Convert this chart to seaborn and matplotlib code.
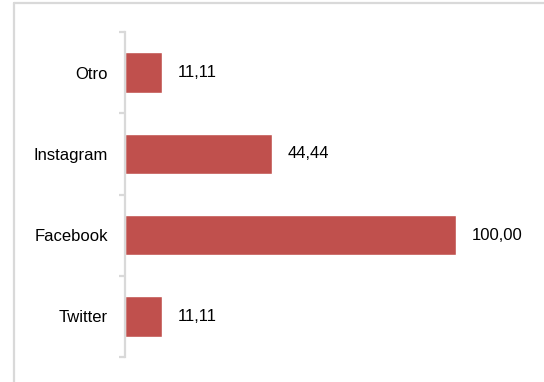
import matplotlib
matplotlib.use("Agg")
import matplotlib.pyplot as plt
import seaborn as sns
import pandas as pd
from matplotlib.lines import Line2D

categories = ["Otro", "Instagram", "Facebook", "Twitter"]
values = [11.11, 44.44, 100.00, 11.11]
labels = ["11,11", "44,44", "100,00", "11,11"]

sns.set_style("white")
plt.rcParams["font.family"] = ["Liberation Sans", "DejaVu Sans"]

df = pd.DataFrame({"categoria": categories, "valor": values})

fig = plt.figure(figsize=(5.44, 3.82), dpi=100)
ax = fig.add_axes([125/544, 1 - 357/382, (522 - 125)/544, (357 - 32)/382])

sns.barplot(data=df, y="categoria", x="valor", order=categories, color="#C0504D",
            saturation=1, width=0.5, ax=ax, orient="h")

ax.set_xlim(0, 120)
ax.set_ylim(3.5, -0.5)
ax.set_xlabel("")
ax.set_ylabel("")
ax.set_xticks([])

for s in ["top", "right", "bottom"]:
    ax.spines[s].set_visible(False)
ax.spines["left"].set_color("#D9D9D9")
ax.spines["left"].set_linewidth(1.6)

ax.set_yticks([-0.5, 0.5, 1.5, 2.5, 3.5], minor=False)
ax.set_yticklabels([])
ax.tick_params(axis="y", which="major", length=4, width=1.6, color="#D9D9D9", left=True)
ax.set_yticks(range(len(categories)), minor=True)
ax.set_yticklabels(categories, minor=True)
ax.tick_params(axis="y", which="minor", length=0, pad=12.5, labelsize=12, labelcolor="#000000")

for i, (v, lab) in enumerate(zip(values, labels)):
    ax.annotate(lab, xy=(v, i), xytext=(11.5, 0), textcoords="offset points",
                va="center", ha="left", fontsize=12, color="#000000")

fig.add_artist(Line2D([14/544, 14/544], [0, 1 - 3/382], transform=fig.transFigure,
                      color="#D9D9D9", linewidth=1.6))
fig.add_artist(Line2D([14/544, 1], [1 - 3/382, 1 - 3/382], transform=fig.transFigure,
                      color="#D9D9D9", linewidth=1.6))

fig.savefig("out.png", dpi=100)
